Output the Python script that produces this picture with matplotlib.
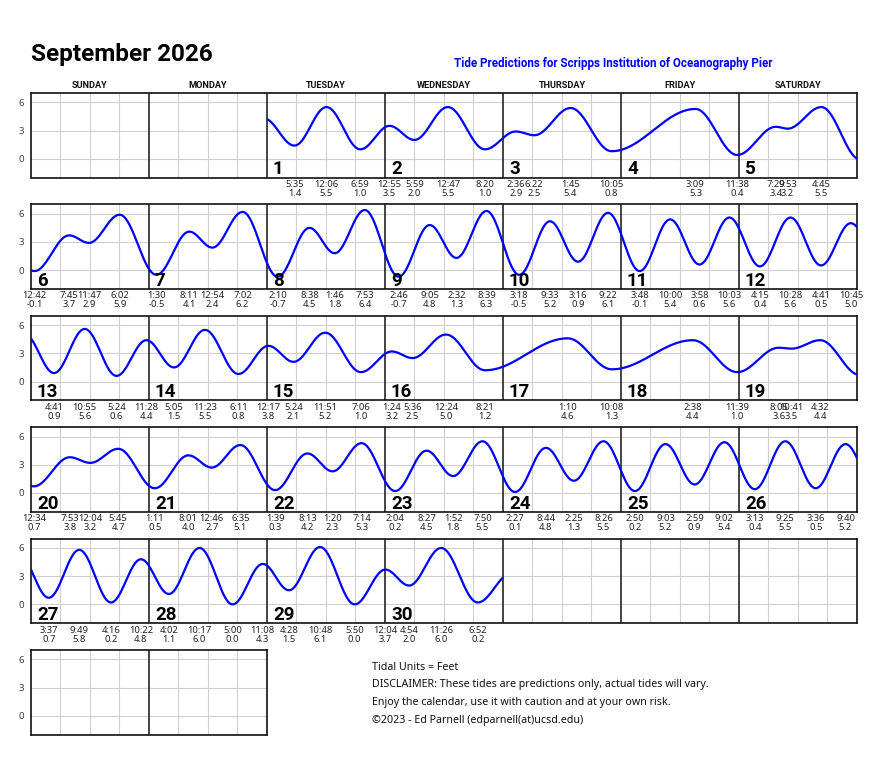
import matplotlib
matplotlib.use("Agg")
import matplotlib.pyplot as plt
import numpy as np
from matplotlib.transforms import blended_transform_factory

plt.rcParams['font.family'] = ['Noto Sans', 'DejaVu Sans']
BOLD = ['Roboto', 'DejaVu Sans']

TITLE = "September 2026"
SUBTITLE = "Tide Predictions for Scripps Institution of Oceanography Pier"
WEEKDAYS = ["SUNDAY", "MONDAY", "TUESDAY", "WEDNESDAY", "THURSDAY", "FRIDAY", "SATURDAY"]
FIRST_WEEKDAY = 2      # Sep 1 2026 is a Tuesday
N_DAYS = 30
FOOTER = ["Tidal Units = Feet",
          "DISCLAIMER: These tides are predictions only, actual tides will vary.",
          "Enjoy the calendar, use it with caution and at your own risk.",
          "\u00a92023 - Ed Parnell (edparnell(at)ucsd.edu)"]

# High / low tides per day (24h clock) and heights in feet
tide_times = [
    ["05:35", "12:06", "18:59"],                 # 1
    ["00:55", "05:59", "12:47", "20:20"],        # 2
    ["02:36", "06:22", "13:45", "22:05"],        # 3
    ["15:09", "23:38"],                          # 4
    ["07:29", "09:53", "16:45"],                 # 5
    ["00:42", "07:45", "11:47", "18:02"],        # 6
    ["01:30", "08:11", "12:54", "19:02"],        # 7
    ["02:10", "08:38", "13:46", "19:53"],        # 8
    ["02:46", "09:05", "14:32", "20:39"],        # 9
    ["03:18", "09:33", "15:16", "21:22"],        # 10
    ["03:48", "10:00", "15:58", "22:03"],        # 11
    ["04:15", "10:28", "16:41", "22:45"],        # 12
    ["04:41", "10:55", "17:24", "23:28"],        # 13
    ["05:05", "11:23", "18:11"],                 # 14
    ["00:17", "05:24", "11:51", "19:06"],        # 15
    ["01:24", "05:36", "12:24", "20:21"],        # 16
    ["13:10", "22:08"],                          # 17
    ["14:38", "23:39"],                          # 18
    ["08:05", "10:41", "16:32"],                 # 19
    ["00:34", "07:53", "12:04", "17:45"],        # 20
    ["01:11", "08:01", "12:46", "18:35"],        # 21
    ["01:39", "08:13", "13:20", "19:14"],        # 22
    ["02:04", "08:27", "13:52", "19:50"],        # 23
    ["02:27", "08:44", "14:25", "20:26"],        # 24
    ["02:50", "09:03", "14:59", "21:02"],        # 25
    ["03:13", "09:25", "15:36", "21:40"],        # 26
    ["03:37", "09:49", "16:16", "22:22"],        # 27
    ["04:02", "10:17", "17:00", "23:08"],        # 28
    ["04:28", "10:48", "17:50"],                 # 29
    ["00:04", "04:54", "11:26", "18:52"],        # 30
]
tide_heights = [
    [1.4, 5.5, 1.0],
    [3.5, 2.0, 5.5, 1.0],
    [2.9, 2.5, 5.4, 0.8],
    [5.3, 0.4],
    [3.4, 3.2, 5.5],
    [-0.1, 3.7, 2.9, 5.9],
    [-0.5, 4.1, 2.4, 6.2],
    [-0.7, 4.5, 1.8, 6.4],
    [-0.7, 4.8, 1.3, 6.3],
    [-0.5, 5.2, 0.9, 6.1],
    [-0.1, 5.4, 0.6, 5.6],
    [0.4, 5.6, 0.5, 5.0],
    [0.9, 5.6, 0.6, 4.4],
    [1.5, 5.5, 0.8],
    [3.8, 2.1, 5.2, 1.0],
    [3.2, 2.5, 5.0, 1.2],
    [4.6, 1.3],
    [4.4, 1.0],
    [3.6, 3.5, 4.4],
    [0.7, 3.8, 3.2, 4.7],
    [0.5, 4.0, 2.7, 5.1],
    [0.3, 4.2, 2.3, 5.3],
    [0.2, 4.5, 1.8, 5.5],
    [0.1, 4.8, 1.3, 5.5],
    [0.2, 5.2, 0.9, 5.4],
    [0.4, 5.5, 0.5, 5.2],
    [0.7, 5.8, 0.2, 4.8],
    [1.1, 6.0, 0.0, 4.3],
    [1.5, 6.1, 0.0],
    [3.7, 2.0, 6.0, 0.2],
]
# tides just outside the month (not labelled): Aug 31 and Oct 1
prev_tide = ("23:20", 4.3)   # day 0
next_tide = ("01:40", 3.3)   # day 31

YMIN, YMAX = -2, 7
YTICKS = [0, 3, 6]

W, H = 870, 773
fig = plt.figure(figsize=(W / 100, H / 100), dpi=100)

def hours(s):
    hh, mm = s.split(":")
    return int(hh) + int(mm) / 60.0

def label12(s):
    hh, mm = s.split(":")
    h = int(hh) % 12
    if h == 0:
        h = 12
    return f"{h}:{mm}"

def abs_hours(day, s):
    # hours since the first Sunday shown on the calendar
    return (day - 1 + FIRST_WEEKDAY) * 24 + hours(s)

# global series of extrema
ext_t = [abs_hours(0, prev_tide[0])]
ext_h = [prev_tide[1]]
for d in range(1, N_DAYS + 1):
    for s, v in zip(tide_times[d - 1], tide_heights[d - 1]):
        ext_t.append(abs_hours(d, s))
        ext_h.append(v)
ext_t.append(abs_hours(N_DAYS + 1, next_tide[0]))
ext_h.append(next_tide[1])
ext_t = np.array(ext_t)
ext_h = np.array(ext_h)

def tide_curve(x):
    i = np.clip(np.searchsorted(ext_t, x, side='right') - 1, 0, len(ext_t) - 2)
    t0, t1 = ext_t[i], ext_t[i + 1]
    h0, h1 = ext_h[i], ext_h[i + 1]
    f = (1 - np.cos(np.pi * (x - t0) / (t1 - t0))) / 2
    return h0 + (h1 - h0) * f

month_start = FIRST_WEEKDAY * 24
month_end = (FIRST_WEEKDAY + N_DAYS) * 24
n_rows = 6

LEFT, RIGHT = 31, 857
COLW = (RIGHT - LEFT) / 7
ROW_TOP0 = 93
ROW_STEP = 111.4
ROW_H = 84.5

# title, subtitle, weekday headers
fig.text(LEFT / W, 1 - 61 / H, TITLE, fontsize=17.5, fontweight='bold', family=BOLD,
         va='baseline', ha='left')
fig.text(613 / W, 1 - 63 / H, SUBTITLE, fontsize=8.4, fontweight='bold', family=BOLD,
         color='#0000ff', va='center', ha='center')
for c, name in enumerate(WEEKDAYS):
    fig.text((LEFT + COLW * (c + 0.5)) / W, 1 - 85 / H, name, fontsize=6.6, fontweight='bold',
             family=BOLD, ha='center', va='center', color='#111111')

for r in range(n_rows):
    ncols = 7 if r < 5 else 2
    top = ROW_TOP0 + ROW_STEP * r
    ax = fig.add_axes([LEFT / W, 1 - (top + ROW_H) / H, COLW * ncols / W, ROW_H / H])
    ax.set_xlim(0, 24 * ncols)
    ax.set_ylim(YMIN, YMAX)
    ax.set_yticks(YTICKS)
    ax.set_xticks([])
    ax.tick_params(axis='y', length=0, pad=5, labelsize=7, labelcolor='#444444')
    for sp in ax.spines.values():
        sp.set_linewidth(1.2)
        sp.set_color('#111111')
    for yv in YTICKS:
        ax.axhline(yv, color='#d0d0d0', lw=0.8, zorder=0)
    for c in range(ncols):
        for k in (6, 12, 18):
            ax.axvline(c * 24 + k, color='#d0d0d0', lw=0.8, zorder=0)
        if c > 0:
            ax.axvline(c * 24, color='#111111', lw=1.1, zorder=1)

    row_start = r * 168
    lo = max(row_start, month_start)
    hi = min(row_start + 24 * ncols, month_end)
    if hi > lo:
        xs = np.linspace(lo, hi, 1200)
        ax.plot(xs - row_start, tide_curve(xs), color='#0000ff', lw=1.6, zorder=3,
                solid_capstyle='butt')

    trans = blended_transform_factory(ax.transData, ax.transAxes)
    for c in range(ncols):
        cell = r * 7 + c
        day = cell - FIRST_WEEKDAY + 1
        if day < 1 or day > N_DAYS:
            continue
        ax.annotate(str(day), xy=(c * 24, 0), xycoords=trans, xytext=(6, 3),
                    textcoords='offset pixels', fontsize=13.5, fontweight='bold', family=BOLD,
                    ha='left', va='baseline', zorder=4)
        for s, v in zip(tide_times[day - 1], tide_heights[day - 1]):
            x = c * 24 + hours(s)
            ax.annotate(label12(s), xy=(x, 0), xycoords=trans, xytext=(0, -7),
                        textcoords='offset pixels', fontsize=6.8, ha='center', va='center',
                        color='#222222', annotation_clip=False)
            ax.annotate(f"{v:.1f}", xy=(x, 0), xycoords=trans, xytext=(0, -16),
                        textcoords='offset pixels', fontsize=6.8, ha='center', va='center',
                        color='#222222', annotation_clip=False)

for i, line in enumerate(FOOTER):
    fig.text(372 / W, 1 - (667 + 17.8 * i) / H, line, fontsize=7.7, ha='left', va='center',
             color='#111111')

fig.savefig("out.png", dpi=100, facecolor='white')
